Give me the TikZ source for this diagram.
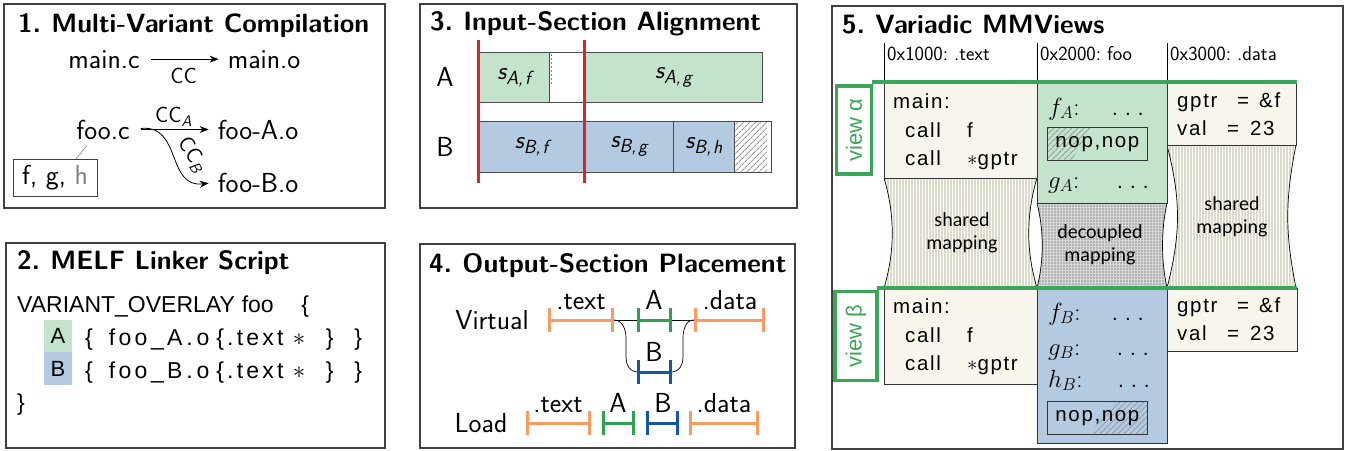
\documentclass[tikz,border=0pt]{standalone}
\usepackage{fontspec}
\usetikzlibrary{arrows.meta,patterns,patterns.meta,calc}
\newfontfamily\helvf{Liberation Sans}
\newfontfamily\carf{Carlito}
\definecolor{fillA}{HTML}{C3E3CC}
\definecolor{fillB}{HTML}{B3CAE1}
\definecolor{vgreen}{HTML}{3AA65A}
\definecolor{barO}{HTML}{FA9B64}
\definecolor{barG}{HTML}{2FA052}
\definecolor{barB}{HTML}{14569F}
\definecolor{redl}{HTML}{D7262B}
\definecolor{cream}{HTML}{F8F5ED}
\definecolor{stripec}{HTML}{DEDACA}
\newcommand\spdots{.\hspace{0.35em}.\hspace{0.35em}.}
\newcommand\ssub[1]{{\fontsize{19}{20}\selectfont\raisebox{-5pt}{#1}}}
\begin{document}
\begin{tikzpicture}[x=1pt,y=-1pt,
  panel/.style={draw=black!75, line width=1.3pt},
  ttl/.style={anchor=base west, inner sep=0, font=\sffamily\bfseries\fontsize{26.5}{30}\selectfont},
  lbl/.style={font=\sffamily\fontsize{27.5}{32}\selectfont, inner sep=2pt},
  sublbl/.style={font=\sffamily\fontsize{22}{26}\selectfont, inner sep=1pt},
  arr/.style={-{Stealth[length=9pt,width=7pt]}, line width=0.8pt, shorten <=9pt, shorten >=7pt},
  scr/.style={font=\helvf\fontsize{23}{27}\selectfont, inner sep=0, anchor=base west},
  sect/.style={draw=black!70, line width=0.8pt, inner sep=0, anchor=north west, font=\sffamily\itshape\fontsize{25}{29}\selectfont},
  redline/.style={draw=redl, line width=3pt},
  bar/.style={line width=3pt, {Bar[width=24pt]}-{Bar[width=24pt]}},
  thinl/.style={line width=0.7pt},
  hdr/.style={font=\sffamily\fontsize{20}{23}\selectfont\addfontfeatures{LetterSpace=6}, anchor=west, inner sep=0},
  cell/.style={draw=black!80, line width=0.8pt, anchor=north west, inner sep=0},
  code/.style={font=\helvf\fontsize{20.5}{24}\selectfont\addfontfeatures{LetterSpace=8}, anchor=base west, inner sep=0},
  mth/.style={font=\fontsize{25}{29}\selectfont, anchor=base west, inner sep=0},
  cal/.style={font=\carf\fontsize{20}{23}\selectfont, align=center, inner sep=0},
  gline/.style={draw=vgreen, line width=3.5pt},
  viewbox/.style={draw=vgreen, line width=3.5pt, rotate=90, inner sep=0, text=vgreen, font=\helvf\fontsize{22}{26}\selectfont},
  hatch/.style={pattern={Lines[angle=45,distance=4pt,line width=1.1pt]}, pattern color=gray!80}
]
\useasboundingbox (0,0) rectangle (1349,450);
\fill[white] (0,0) rectangle (1349,450);

% ---------- Panel 1 ----------
\draw[panel] (4,4) rectangle (385,208);
\node[ttl] (t1) at (18,32) {1.\hspace{0.4em}Multi-Variant Compilation};
\node[lbl, anchor=base] (mainc) at (104,68) {main.c};
\node[lbl, anchor=base] (maino) at (264,68) {main.o};
\draw[arr] (mainc) -- (maino) node[midway, below=8pt, sublbl] (cc) {CC};
\node[lbl, anchor=base] (fooc) at (103,139) {foo.c};
\node[lbl, anchor=base] (fooa) at (258,139) {foo-A.o};
\node[lbl, anchor=base] (foob) at (258,192) {foo-B.o};
\draw[arr] (fooc) -- (fooa) node[midway, above=2pt, sublbl] (cca) {CC\textsubscript{\itshape A}};
\draw[arr] (fooc.east) .. controls (182,124) and (166,188) .. (foob.west);
\node[sublbl, rotate=-57, inner sep=0] (ccb) at (192,155) {CC\textsubscript{\itshape B}};
\node[lbl, draw=black!75, line width=0.8pt, minimum width=84, minimum height=37, inner sep=0] (fgh) at (55,178) {f, g, \textcolor{gray}{h}};
\draw[gray, line width=0.6pt] ([xshift=21pt]fgh.north) -- ([xshift=-16pt,yshift=-4pt]fooc.south);

% ---------- Panel 2 ----------
\draw[panel] (6,243) rectangle (385,448);
\node[ttl] (t2) at (17,269) {2.\hspace{0.4em}MELF Linker Script};
\node[scr] (vo) at (17,312) {VARIANT\_OVERLAY\hspace{0.3em}foo\hspace{1.2em}\{};
\node[fill=fillA, minimum width=28, minimum height=32, inner sep=0, font=\helvf\fontsize{22}{26}\selectfont] (la) at (58,336) {A};
\node[fill=fillB, minimum width=28, minimum height=33, inner sep=0, font=\helvf\fontsize{22}{26}\selectfont] (lb) at (58,368.5) {B};
\node[scr] (lineA) at (85,345) {\addfontfeatures{LetterSpace=14}\{\hspace{0.7em}foo\,\_A\,.\,o\hspace{0.3em}\{.text\hspace{0.4em}$\ast$\hspace{0.9em}\}\hspace{0.9em}\}};
\node[scr] (lineB) at (85,378) {\addfontfeatures{LetterSpace=14}\{\hspace{0.7em}foo\,\_B\,.\,o\hspace{0.3em}\{.text\hspace{0.4em}$\ast$\hspace{0.9em}\}\hspace{0.9em}\}};
\node[scr] (close) at (17,410) {\}};

% ---------- Panel 3 ----------
\draw[panel] (420,4) rectangle (797,208);
\node[ttl] (t3) at (430,30) {3.\hspace{0.4em}Input-Section Alignment};
\node[lbl] (ra) at (445,77) {A};
\node[lbl] (rb) at (445,147) {B};
\node[sect, fill=fillA, minimum width=71, minimum height=50] (saf) at (478,52) {s\ssub{A,\hspace{0.1em}f}};
\node[sect, fill=white, minimum width=35, minimum height=50] (gap) at (549,52) {};
\draw[gray, line width=1.5pt, dash pattern=on 2pt off 2pt] (551.5,54) -- (551.5,86);
\node[sect, fill=fillA, minimum width=178, minimum height=50] (sag) at (584,52) {s\ssub{A,\hspace{0.1em}g}};
\node[sect, fill=fillB, minimum width=106, minimum height=51] (sbf) at (478,121) {s\ssub{B,\hspace{0.1em}f}};
\node[sect, fill=fillB, minimum width=89, minimum height=51] (sbg) at (584,121) {s\ssub{B,\hspace{0.1em}g}};
\node[sect, fill=fillB, minimum width=61, minimum height=51] (sbh) at (673,121) {s\ssub{B,\hspace{0.1em}h}};
\fill[hatch] (734,121) rectangle (767,172);
\node[sect, minimum width=37, minimum height=51] (pad) at (734,121) {};
\draw[redline] (478,40) -- (478,183);
\draw[redline] (584,40) -- (584,183);

% ---------- Panel 4 ----------
\draw[panel] (420,244) rectangle (795,448);
\node[ttl] (t4) at (429,272) {4.\hspace{0.4em}Output-Section Placement};
\node[lbl, anchor=base] (virt) at (492,329) {Virtual};
\node[lbl, anchor=base] (load) at (481,432) {Load};
\coordinate (vt1) at (548,320); \coordinate (vt2) at (614,320);
\coordinate (va1) at (637,320); \coordinate (va2) at (672,320);
\coordinate (vd1) at (694,320); \coordinate (vd2) at (765,320);
\coordinate (vb1) at (637,372); \coordinate (vb2) at (672,372);
\coordinate (lt1) at (526,423); \coordinate (lt2) at (591,423);
\coordinate (la1) at (602,423); \coordinate (la2) at (635,423);
\coordinate (lb1) at (646,423); \coordinate (lb2) at (679,423);
\coordinate (ld1) at (689,423); \coordinate (ld2) at (759,423);
\draw[thinl] (vt2) -- (vd1);
\draw[thinl] (vt2) to[out=0,in=90] (626,338) -- (626,358) to[out=-90,in=180] (vb1);
\draw[thinl] (vb2) to[out=0,in=-90] (683,358) -- (683,338) to[out=90,in=180] (vd1);
\draw[bar, barO] (vt1) -- (vt2);
\draw[bar, barG] (va1) -- (va2);
\draw[bar, barO] (vd1) -- (vd2);
\draw[bar, barB] (vb1) -- (vb2);
\draw[bar, barO] (lt1) -- (lt2);
\draw[bar, barG] (la1) -- (la2);
\draw[bar, barB] (lb1) -- (lb2);
\draw[bar, barO] (ld1) -- (ld2);
\node[lbl, anchor=base, inner sep=0] (vtl) at (581,309) {.text};
\node[lbl, anchor=base, inner sep=0] (val) at (654,309) {A};
\node[lbl, anchor=base, inner sep=0] (vdl) at (730,309) {.data};
\node[lbl, anchor=base, inner sep=0] (vbl) at (654,361) {B};
\node[lbl, anchor=base, inner sep=0] (ltl) at (558,412) {.text};
\node[lbl, anchor=base, inner sep=0] (lal) at (618,412) {A};
\node[lbl, anchor=base, inner sep=0] (lbl) at (663,412) {B};
\node[lbl, anchor=base, inner sep=0] (ldl) at (724,412) {.data};

% ---------- Panel 5 ----------
\draw[panel] (832,6) rectangle (1343,449);
\node[ttl] (t5) at (842,33) {5.\hspace{0.4em}Variadic MMViews};
\draw[thinl] (884,43) -- (884,82);
\draw[thinl] (1037,43) -- (1037,82);
\draw[thinl] (1167,43) -- (1167,82);
\node[hdr] (h1) at (887,54) {0x1000:\hspace{0.3em}.text};
\node[hdr] (h2) at (1040,54) {0x2000:\hspace{0.3em}foo};
\node[hdr] (h3) at (1170,54) {0x3000:\hspace{0.3em}.data};

% shared / decoupled mappings
\fill[pattern={Lines[angle=90,distance=3pt,line width=1.2pt]}, pattern color=stripec]
  (884,178) .. controls (895,215) and (895,251) .. (884,288) -- (1037,288)
  .. controls (1026,251) and (1026,215) .. (1037,178) -- cycle;
\draw[thinl] (884,178) .. controls (895,215) and (895,251) .. (884,288);
\draw[thinl] (1037,178) .. controls (1026,215) and (1026,251) .. (1037,288);
\fill[pattern={Lines[angle=90,distance=3pt,line width=1.2pt]}, pattern color=stripec]
  (1167,145) .. controls (1181,200) and (1181,233) .. (1167,288) -- (1296,288)
  .. controls (1285,233) and (1285,200) .. (1296,145) -- cycle;
\draw[thinl] (1167,145) .. controls (1181,200) and (1181,233) .. (1167,288);
\draw[thinl] (1296,145) .. controls (1285,200) and (1285,233) .. (1296,288);
\fill[gray!60]
  (1037,203) .. controls (1044,231) and (1044,260) .. (1037,288) -- (1167,288)
  .. controls (1161,260) and (1161,231) .. (1167,203) -- cycle;
\fill[pattern={Lines[angle=0,distance=3pt,line width=0.9pt]}, pattern color=gray!30]
  (1037,203) .. controls (1044,231) and (1044,260) .. (1037,288) -- (1167,288)
  .. controls (1161,260) and (1161,231) .. (1167,203) -- cycle;
\fill[pattern={Lines[angle=90,distance=3pt,line width=0.9pt]}, pattern color=gray!30]
  (1037,203) .. controls (1044,231) and (1044,260) .. (1037,288) -- (1167,288)
  .. controls (1161,260) and (1161,231) .. (1167,203) -- cycle;
\draw[thinl] (1037,203) .. controls (1044,231) and (1044,260) .. (1037,288);
\draw[thinl] (1167,203) .. controls (1161,231) and (1161,260) .. (1167,288);
\node[cal] (sm1) at (962,233) {shared\\mapping};
\node[cal] (sm2) at (1232,217) {shared\\mapping};
\node[cal] (dm) at (1100,245) {decoupled\\mapping};

% row alpha
\node[cell, fill=cream, minimum width=153, minimum height=96] (ma) at (884,82) {};
\node[cell, fill=fillA, minimum width=130, minimum height=121] (fa) at (1037,82) {};
\node[cell, fill=cream, minimum width=129, minimum height=63] (da) at (1167,82) {};
\node[code] (ma1) at (893,108) {main:};
\node[code] (ma2) at (905,137) {\makebox[62pt][l]{call}f};
\node[code] (ma3) at (905,165) {\makebox[62pt][l]{call}$\ast$gptr};
\node[mth] (fa1) at (1048,115) {$f_A$:};
\node[code] (fa1d) at (1112,115) {\spdots};
\fill[hatch] (1047,127) -- (1092,127) -- (1072,160) -- (1047,160) -- cycle;
\node[cell, minimum width=100, minimum height=33] (nopa) at (1047,127) {};
\node[code, anchor=center] (nopat) at (nopa.center) {nop,nop};
\node[mth] (ga1) at (1048,188) {$g_A$:};
\node[code] (ga1d) at (1117,188) {\spdots};
\node[code] (da1) at (1177,107) {\makebox[60pt][l]{gptr}\makebox[22pt][l]{=}\&f};
\node[code] (da2) at (1177,135) {\makebox[50pt][l]{val}\makebox[23pt][l]{=}23};

% row beta
\node[cell, fill=cream, minimum width=153, minimum height=96] (mb) at (884,288) {};
\node[cell, fill=fillB, minimum width=130, minimum height=155] (fb) at (1037,288) {};
\node[cell, fill=cream, minimum width=130, minimum height=63] (db) at (1167,288) {};
\node[code] (mb1) at (893,313) {main:};
\node[code] (mb2) at (905,342) {\makebox[62pt][l]{call}f};
\node[code] (mb3) at (905,370) {\makebox[62pt][l]{call}$\ast$gptr};
\node[mth] (fb1) at (1048,320) {$f_B$:};
\node[code] (fb1d) at (1112,320) {\spdots};
\node[mth] (gb1) at (1048,355) {$g_B$:};
\node[code] (gb1d) at (1117,355) {\spdots};
\node[mth] (hb1) at (1048,387) {$h_B$:};
\node[code] (hb1d) at (1118,387) {\spdots};
\fill[hatch] (1115,401) -- (1147,401) -- (1147,434) -- (1090,434) -- cycle;
\node[cell, minimum width=100, minimum height=33] (nopb) at (1047,401) {};
\node[code, anchor=center] (nopbt) at (nopb.center) {nop,nop};
\node[code] (db1) at (1177,312) {\makebox[60pt][l]{gptr}\makebox[22pt][l]{=}\&f};
\node[code] (db2) at (1177,340) {\makebox[50pt][l]{val}\makebox[23pt][l]{=}23};

% view markers
\draw[gline] (872,82) -- (1297,82);
\draw[gline] (877,288) -- (1297,288);
\node[viewbox, minimum width=88, minimum height=35] (va) at (854,130) {view α};
\node[viewbox, minimum width=89, minimum height=42] (vb) at (856,336) {view β};
\end{tikzpicture}
\end{document}
